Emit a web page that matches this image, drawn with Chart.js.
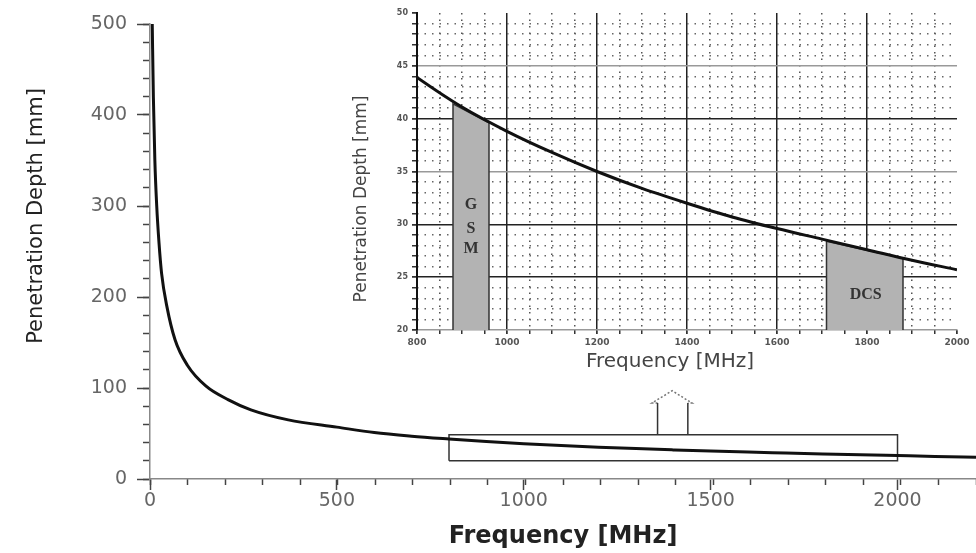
<!DOCTYPE html>
<html>
<head>
<meta charset="utf-8">
<script src="https://cdn.jsdelivr.net/npm/chart.js@4.4.1/dist/chart.umd.min.js"></script>
<style>
  body { margin: 0; background: #fff; }
  #wrap { position: relative; width: 976px; height: 553px; }
  #mainChart { position: absolute; left: 0; top: 0; }
  #insetChart { position: absolute; left: 345px; top: 0; }
</style>
</head>
<body>
<div id="wrap">
  <canvas id="mainChart" width="976" height="553"></canvas>
  <canvas id="insetChart" width="631" height="380"></canvas>
</div>
<script>
// penetration depth vs frequency
var freqMHz = [6, 9, 13, 18, 24, 31, 45, 67, 100, 150, 210, 270, 370, 500, 600, 700, 800, 900, 1000, 1100, 1200, 1300, 1400, 1500, 1600, 1700, 1800, 1900, 2000, 2100, 2210];
var depthMm = [500, 420, 350, 300, 260, 226, 190, 153, 125, 102, 87, 76, 65, 57, 51, 47, 43.9, 41.1, 38.8, 36.8, 35.0, 33.4, 32.0, 30.7, 29.6, 28.6, 27.6, 26.6, 25.7, 24.8, 23.9];

// tick labels
var mainXTicks = [0, 500, 1000, 1500, 2000];
var mainYTicks = [0, 100, 200, 300, 400, 500];
var insetXTicks = [800, 1000, 1200, 1400, 1600, 1800, 2000];
var insetYTicks = [20, 25, 30, 35, 40, 45, 50];

// zoom box + arrow on the main plot
var zoomBoxX = [800, 2000];
var zoomBoxY = [20, 48.7];
var arrowShaftX = [1358, 1439];
var arrowHeadX = [1343, 1397, 1450];
var arrowHeadY = [83.5, 97, 83.5];

// GSM / DCS bands in the inset (top edge sits on the curve)
var gsmX = [880, 960];
var gsmTop = [41.4, 39.6];
var dcsX = [1710, 1880];
var dcsTop = [28.4, 26.8];

var bandLabels = [
  { text: 'G', x: 920, y: 31.8 },
  { text: 'S', x: 920, y: 29.6 },
  { text: 'M', x: 920, y: 27.7 },
  { text: 'DCS', x: 1797, y: 23.3 }
];

var curve = freqMHz.map(function(f, i) { return { x: f, y: depthMm[i] }; });

function tickList(arr) {
  return function(axis) { axis.ticks = arr.map(function(v) { return { value: v }; }); };
}
function plain(v) { return String(v); }

// axis titles placed where the original figure has them
function freeTitles(items) {
  return {
    id: 'freeTitles',
    afterDraw: function(chart) {
      var ctx = chart.ctx;
      items.forEach(function(t) {
        ctx.save();
        ctx.translate(t.x, t.y);
        ctx.rotate(t.rot || 0);
        ctx.font = t.font;
        ctx.fillStyle = t.color;
        ctx.textAlign = 'center';
        ctx.textBaseline = 'middle';
        ctx.fillText(t.text, 0, 0);
        ctx.restore();
      });
    }
  };
}

var boxPts = [
  { x: zoomBoxX[0], y: zoomBoxY[0] }, { x: zoomBoxX[1], y: zoomBoxY[0] },
  { x: zoomBoxX[1], y: zoomBoxY[1] }, { x: zoomBoxX[0], y: zoomBoxY[1] },
  { x: zoomBoxX[0], y: zoomBoxY[0] }
];
var shaftPts = [
  { x: arrowShaftX[0], y: zoomBoxY[1] }, { x: arrowShaftX[0], y: arrowHeadY[0] },
  { x: (arrowShaftX[0] + arrowShaftX[1]) / 2, y: null },
  { x: arrowShaftX[1], y: arrowHeadY[2] }, { x: arrowShaftX[1], y: zoomBoxY[1] }
];
var headPts = [
  { x: arrowShaftX[0], y: arrowHeadY[0] },
  { x: arrowHeadX[0], y: arrowHeadY[0] },
  { x: arrowHeadX[1], y: arrowHeadY[1] },
  { x: arrowHeadX[2], y: arrowHeadY[2] },
  { x: arrowShaftX[1], y: arrowHeadY[2] }
];

var mainChart = new Chart(document.getElementById('mainChart'), {
  type: 'scatter',
  data: {
    datasets: [
      { data: curve, showLine: true, borderColor: '#111', borderWidth: 3, pointRadius: 0, cubicInterpolationMode: 'monotone' },
      { data: boxPts, showLine: true, borderColor: '#333', borderWidth: 1.5, pointRadius: 0 },
      { data: shaftPts, showLine: true, spanGaps: false, borderColor: '#333', borderWidth: 1.5, pointRadius: 0 },
      { data: headPts, showLine: true, borderColor: '#777', borderWidth: 1.5, borderDash: [2, 2], pointRadius: 0 }
    ]
  },
  plugins: [freeTitles([
    { text: 'Penetration Depth [mm]', x: 37, y: 216, rot: -Math.PI / 2, font: '21px "DejaVu Sans"', color: '#222' }
  ])],
  options: {
    responsive: false,
    animation: false,
    plugins: { legend: { display: false }, tooltip: { enabled: false } },
    layout: { padding: { top: 24, right: 0, left: 0, bottom: 0 } },
    scales: {
      x: {
        type: 'linear', position: 'bottom', min: 0, max: 2210, weight: 1,
        afterBuildTicks: tickList(mainXTicks),
        ticks: { autoSkip: false, maxRotation: 0, padding: 0, color: '#666', font: { family: 'DejaVu Sans', size: 19 }, callback: plain },
        grid: { drawOnChartArea: false, tickLength: 11, tickColor: '#444', tickWidth: 1.5 },
        border: { color: '#888', width: 1.5 },
        title: { display: true, text: 'Frequency [MHz]', color: '#222', font: { family: 'DejaVu Sans', size: 24, weight: 'bold' }, padding: { top: 0, bottom: 2 } },
        afterFit: function(s) { s.height = 74; }
      },
      xMinor: {
        type: 'linear', position: 'bottom', min: 0, max: 2210, weight: 0,
        ticks: { stepSize: 100, display: false },
        grid: { drawOnChartArea: false, tickLength: 6, tickColor: '#444', tickWidth: 1.5 },
        border: { display: false },
        afterFit: function(s) { s.height = 0; }
      },
      y: {
        type: 'linear', position: 'left', min: 0, max: 500, weight: 1,
        afterBuildTicks: tickList(mainYTicks),
        ticks: { padding: 10, color: '#666', font: { family: 'DejaVu Sans', size: 19 }, callback: plain },
        grid: { drawOnChartArea: false, tickLength: 13, tickColor: '#444', tickWidth: 1.5 },
        border: { color: '#888', width: 1.5 },
        afterFit: function(s) { s.width = 150; }
      },
      yMinor: {
        type: 'linear', position: 'left', min: 0, max: 500, weight: 0,
        ticks: { stepSize: 20, display: false },
        grid: { drawOnChartArea: false, tickLength: 7, tickColor: '#444', tickWidth: 1.5 },
        border: { display: false },
        afterFit: function(s) { s.width = 0; }
      }
    }
  }
});

var bandText = {
  id: 'bandText',
  afterDatasetsDraw: function(chart) {
    var ctx = chart.ctx, xs = chart.scales.x, ys = chart.scales.y;
    ctx.save();
    ctx.font = 'bold 16px "Liberation Serif"';
    ctx.fillStyle = '#333';
    ctx.textAlign = 'center';
    ctx.textBaseline = 'middle';
    bandLabels.forEach(function(l) {
      ctx.fillText(l.text, xs.getPixelForValue(l.x), ys.getPixelForValue(l.y));
    });
    ctx.restore();
  }
};

function bandPts(xs, tops) {
  return [
    { x: xs[0], y: insetYTicks[0] }, { x: xs[0], y: tops[0] },
    { x: xs[1], y: tops[1] }, { x: xs[1], y: insetYTicks[0] }
  ];
}

var insetChart = new Chart(document.getElementById('insetChart'), {
  type: 'scatter',
  data: {
    datasets: [
      { data: curve, showLine: true, borderColor: '#111', borderWidth: 3, pointRadius: 0, cubicInterpolationMode: 'monotone' },
      { data: bandPts(gsmX, gsmTop), showLine: true, fill: 'start', backgroundColor: '#b3b3b3', borderColor: '#333', borderWidth: 1.5, pointRadius: 0 },
      { data: bandPts(dcsX, dcsTop), showLine: true, fill: 'start', backgroundColor: '#b3b3b3', borderColor: '#333', borderWidth: 1.5, pointRadius: 0 }
    ]
  },
  plugins: [bandText, freeTitles([
    { text: 'Penetration Depth [mm]', x: 17, y: 199, rot: -Math.PI / 2, font: '17px "DejaVu Sans"', color: '#444' },
    { text: 'Frequency [MHz]', x: 325, y: 362, rot: 0, font: '20px "DejaVu Sans"', color: '#444' }
  ])],
  options: {
    responsive: false,
    animation: false,
    plugins: { legend: { display: false }, tooltip: { enabled: false } },
    layout: { padding: { top: 13, right: 19, left: 0, bottom: 0 } },
    scales: {
      x: {
        type: 'linear', position: 'bottom', min: 800, max: 2000, weight: 1,
        afterBuildTicks: tickList(insetXTicks),
        ticks: { autoSkip: false, maxRotation: 0, padding: 3, color: '#555', font: { family: 'DejaVu Sans', size: 9, weight: 'bold' }, callback: plain },
        grid: {
          lineWidth: 1.5,
          color: function(c) { var v = c.tick.value; return (v > 800 && v < 2000) ? '#222' : 'rgba(0,0,0,0)'; },
          tickLength: 4, tickColor: '#333'
        },
        border: { color: '#999', width: 1.5 },
        afterFit: function(s) { s.height = 50; }
      },
      xMinor: {
        type: 'linear', position: 'bottom', min: 800, max: 2000, weight: 0,
        ticks: { stepSize: 50, display: false },
        grid: {
          lineWidth: 1.5,
          color: function(c) { return c.tick.value % 200 === 0 ? 'rgba(0,0,0,0)' : '#555'; },
          tickLength: 4, tickColor: '#333', tickBorderDash: []
        },
        border: { display: false, dash: [1.5, 5] },
        afterFit: function(s) { s.height = 0; }
      },
      y: {
        type: 'linear', position: 'left', min: 20, max: 50, weight: 1,
        afterBuildTicks: tickList(insetYTicks),
        ticks: { padding: 4, color: '#555', font: { family: 'DejaVu Sans', size: 8, weight: 'bold' }, callback: plain },
        grid: {
          lineWidth: 1.5,
          color: function(c) {
            var v = c.tick.value;
            if (v === 25 || v === 30 || v === 40) return '#222';
            if (v === 35 || v === 45) return '#999';
            return 'rgba(0,0,0,0)';
          },
          tickLength: 5, tickColor: '#333'
        },
        border: { color: '#111', width: 2 },
        afterFit: function(s) { s.width = 72; }
      },
      yMinor: {
        type: 'linear', position: 'left', min: 20, max: 50, weight: 0,
        ticks: { stepSize: 1, display: false },
        grid: {
          lineWidth: 1.5,
          color: function(c) { return c.tick.value % 5 === 0 ? 'rgba(0,0,0,0)' : '#666'; },
          tickLength: 5, tickColor: '#333', tickBorderDash: []
        },
        border: { display: false, dash: [1.5, 6] },
        afterFit: function(s) { s.width = 0; }
      }
    }
  }
});
</script>
</body>
</html>
